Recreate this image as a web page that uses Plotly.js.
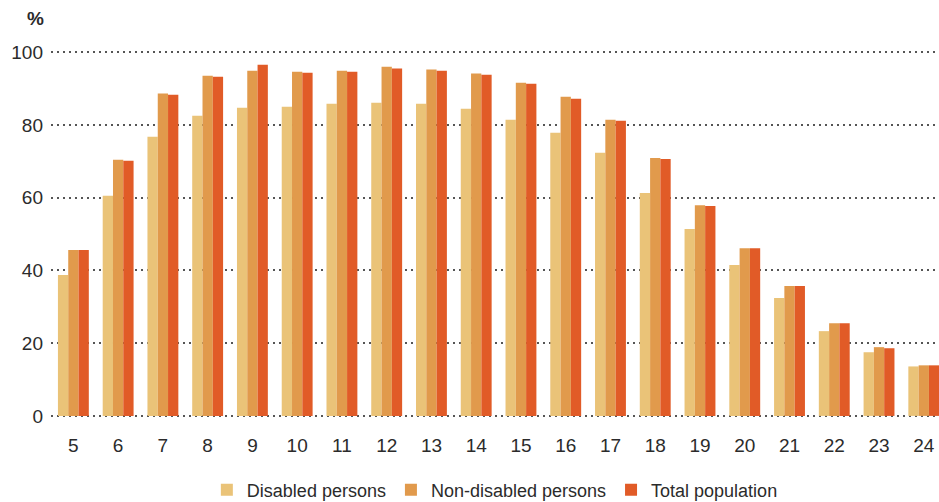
<!DOCTYPE html>
<html>
<head>
<meta charset="utf-8">
<script src="https://cdn.plot.ly/plotly-3.0.1.min.js"></script>
<style>
  body { margin: 0; background: #fff; }
  #chart { width: 939px; height: 502px; }
</style>
</head>
<body>
<div id="chart"></div>
<script>
var ages = ['5', '6', '7', '8', '9', '10', '11', '12', '13', '14', '15', '16', '17', '18', '19', '20', '21', '22', '23', '24'];
var disabled = [38.7, 60.5, 76.7, 82.5, 84.7, 85.0, 85.8, 86.1, 85.8, 84.4, 81.4, 77.8, 72.3, 61.3, 51.4, 41.5, 32.4, 23.3, 17.5, 13.6];
var nonDisabled = [45.6, 70.4, 88.6, 93.5, 94.9, 94.6, 94.9, 96.0, 95.2, 94.1, 91.6, 87.7, 81.4, 70.9, 57.9, 46.1, 35.7, 25.5, 18.9, 13.9];
var total = [45.6, 70.1, 88.3, 93.2, 96.5, 94.3, 94.6, 95.5, 94.9, 93.8, 91.3, 87.2, 81.1, 70.6, 57.7, 46.1, 35.7, 25.5, 18.6, 13.9];

var data = [
    {x: ages, y: disabled, name: 'Disabled persons', type: 'bar', marker: {color: '#EAC378'}},
    {x: ages, y: nonDisabled, name: 'Non-disabled persons', type: 'bar', marker: {color: '#E19A4C'}},
    {x: ages, y: total, name: 'Total population', type: 'bar', marker: {color: '#E15B27'}}
];

var layout = {
    barmode: 'group',
    bargap: 0.31,
    bargroupgap: 0,
    width: 939,
    height: 502,
    paper_bgcolor: '#fff',
    plot_bgcolor: '#fff',
    font: {family: 'Liberation Sans, Arial, sans-serif', size: 19, color: '#2b2b2b'},
    margin: {l: 51, r: 0, t: 51, b: 85},
    showlegend: true,
    legend: {
        orientation: 'h',
        xref: 'container', yref: 'container',
        x: 0.527, xanchor: 'center',
        y: 0.024, yanchor: 'middle',
        font: {size: 18, color: '#2b2b2b'},
        itemwidth: 30
    },
    xaxis: {
        type: 'category',
        range: [-0.5, 19.34],
        showgrid: false,
        showline: false,
        ticks: '',
        ticklabelstandoff: 15,
        tickfont: {size: 19}
    },
    yaxis: {
        range: [-0.3, 100.3],
        tickvals: [0, 20, 40, 60, 80, 100],
        showgrid: true,
        gridcolor: '#555',
        gridwidth: 1.5,
        griddash: '1.5px,4.5px',
        zeroline: false,
        showline: false,
        ticks: '',
        ticklabelstandoff: 7,
        tickfont: {size: 19}
    },
    annotations: [{
        text: '<b>%</b>',
        xref: 'paper', yref: 'paper',
        x: -0.018, y: 1.09,
        xanchor: 'center', yanchor: 'middle',
        showarrow: false,
        font: {size: 19, color: '#2b2b2b'}
    }]
};

Plotly.newPlot('chart', data, layout, {displayModeBar: false});
</script>
</body>
</html>
